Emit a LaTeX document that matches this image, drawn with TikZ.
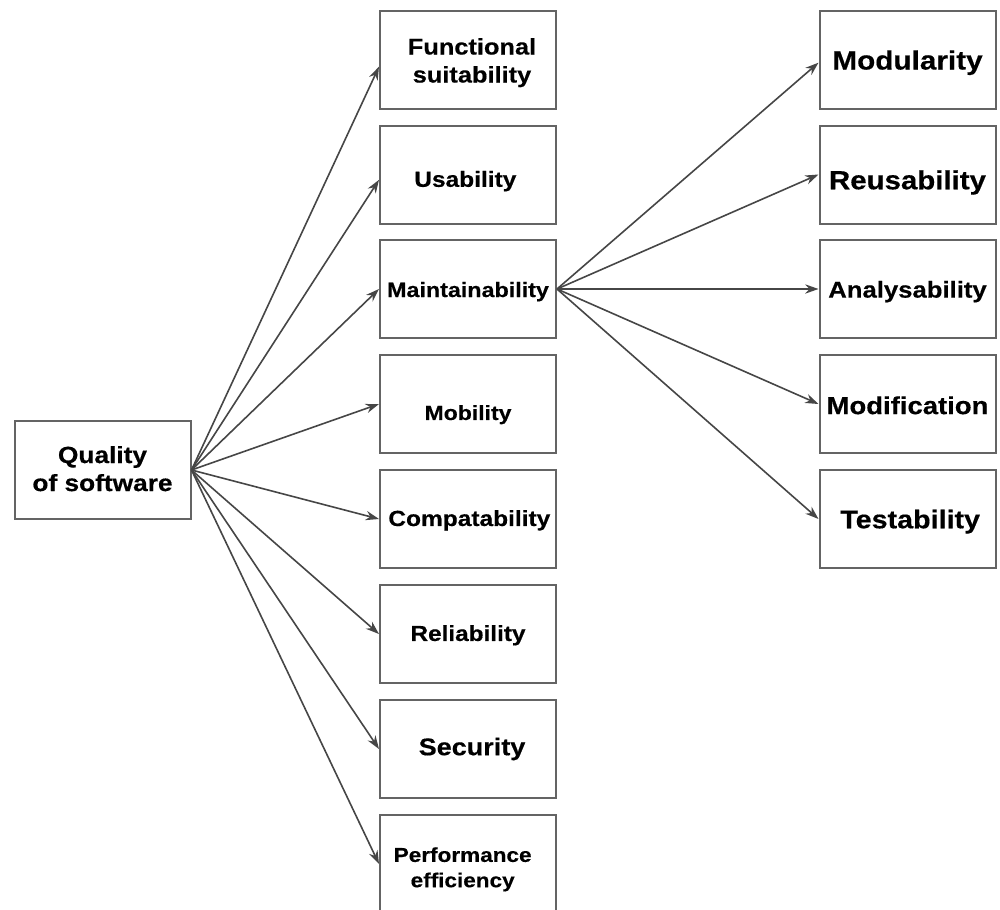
\documentclass[tikz,border=0pt]{standalone}
\usepackage{fontspec}
\setmainfont{Liberation Sans}[FakeStretch=1.12, BoldFeatures={FakeBold=0.4}]
\usetikzlibrary{arrows.meta}
\definecolor{boxgray}{RGB}{100,100,100}
\definecolor{linegray}{RGB}{70,70,70}
\tikzset{
  box/.style={draw=boxgray, line width=1.5pt, minimum width=132pt, minimum height=73.5pt, inner sep=0pt},
  fs/.style={font=\bfseries\fontsize{#1}{21}\selectfont, align=center},
  link/.style={draw=linegray, line width=1.2pt, -{Stealth[length=10pt,width=7pt]}},
}
\begin{document}
\begin{tikzpicture}[x=0.75pt,y=0.75pt,yscale=-1,xscale=1]
\clip (0,0) rectangle (1000,910);

% Root
\node[box,label={[fs=17.6,yshift=1pt]center:Quality\\of software}] (quality) at (102.5,470) {};

% Characteristics
\node[box,label={[fs=17,xshift=3pt,yshift=-2pt]center:Functional\\suitability}] (func) at (468,60) {};
\node[box,label={[fs=16.4,xshift=-2pt,yshift=-5pt]center:Usability}] (usab) at (468,174.5) {};
\node[box,label={[fs=15.6,yshift=-2pt]center:Maintainability}] (maint) at (468,289) {};
\node[box,label={[fs=15.4,yshift=-8pt]center:Mobility}] (mobil) at (468,404) {};
\node[box,label={[fs=16.4,xshift=1pt,yshift=-1pt]center:Compatability}] (compat) at (468,519) {};
\node[box,label={[fs=16.3,yshift=-1pt]center:Reliability}] (relia) at (468,634) {};
\node[box,label={[fs=18.1,xshift=3pt]center:Security}] (secur) at (468,749) {};
\node[box,label={[font=\bfseries\fontsize{15.1}{19}\selectfont,align=center,xshift=-4pt,yshift=-4pt]center:Performance\\efficiency}] (perf) at (468,864) {};

% Sub-characteristics of maintainability
\node[box,label={[fs=19.9,yshift=-2pt]center:Modularity}] (modul) at (907.5,60) {};
\node[box,label={[fs=19.7,yshift=-6pt]center:Reusability}] (reuse) at (907.5,174.5) {};
\node[box,label={[fs=17.2,yshift=-2pt]center:Analysability}] (analys) at (907.5,289) {};
\node[box,label={[fs=18.4,yshift=-1pt]center:Modification}] (modif) at (907.5,404) {};
\node[box,label={[fs=19.2,xshift=2pt,yshift=-2pt]center:Testability}] (testab) at (907.5,519) {};

% Links
\draw[link] (quality.east) -- ([yshift=5pt]func.west);
\draw[link] (quality.east) -- ([yshift=4pt]usab.west);
\foreach \n in {maint,mobil,compat,relia,secur,perf}
  \draw[link] (quality.east) -- (\n.west);
\draw[link] (maint.east) -- ([yshift=2pt]modul.west);
\foreach \n in {reuse,analys,modif,testab}
  \draw[link] (maint.east) -- (\n.west);

\end{tikzpicture}
\end{document}
